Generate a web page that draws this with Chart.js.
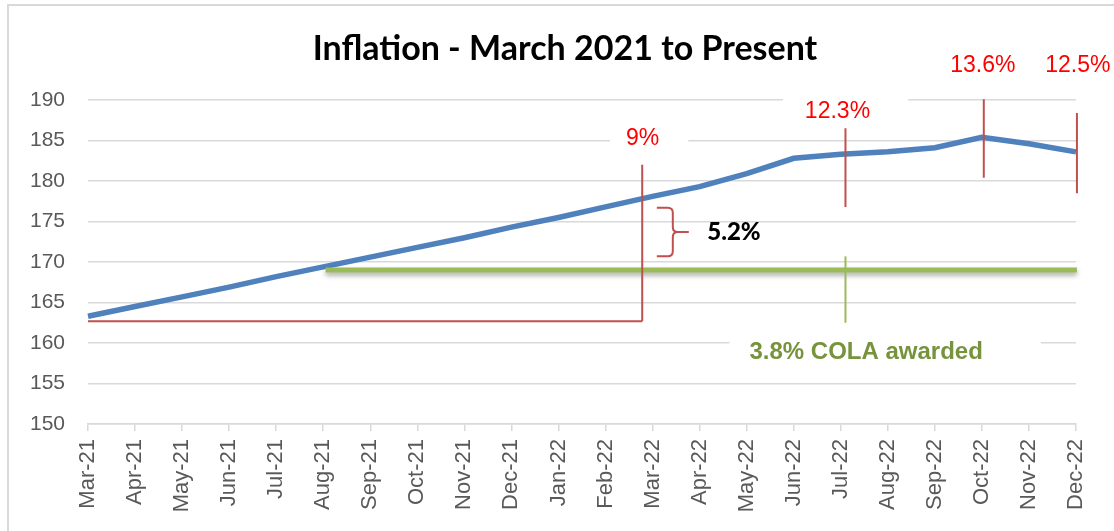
<!DOCTYPE html>
<html>
<head>
<meta charset="utf-8">
<title>Inflation - March 2021 to Present</title>
<script src="https://cdn.jsdelivr.net/npm/chart.js@4.4.0/dist/chart.umd.min.js"></script>
<style>
    body { margin: 0; background: #ffffff; overflow: hidden; }
    #frame {
        position: absolute; left: 7px; top: 4px;
        width: 1130px; height: 540px;
        border: 2px solid #d9d9d9;
    }
    #wrap { position: absolute; left: 0; top: 0; width: 1114px; height: 531px; }
</style>
</head>
<body>
<div id="frame"></div>
<div id="wrap"><canvas id="inflation-chart" width="1114" height="531"></canvas></div>
<script>
// ======== DATA ========
const months = [
    'Mar-21', 'Apr-21', 'May-21', 'Jun-21', 'Jul-21', 'Aug-21', 'Sep-21', 'Oct-21',
    'Nov-21', 'Dec-21', 'Jan-22', 'Feb-22', 'Mar-22', 'Apr-22', 'May-22', 'Jun-22',
    'Jul-22', 'Aug-22', 'Sep-22', 'Oct-22', 'Nov-22', 'Dec-22'
];
const cpiValues = [
    163.3, 164.5, 165.7, 166.9, 168.2, 169.4, 170.6, 171.8,
    173.0, 174.3, 175.5, 176.8, 178.1, 179.3, 180.9, 182.8,
    183.3, 183.6, 184.1, 185.4, 184.6, 183.6
];
const yTicks = [150, 155, 160, 165, 170, 175, 180, 185, 190];

// annotations (in data units : month index, index value)
const redMarkers = [            // vertical red lines
    { x: 11.78, from: 162.7, to: 182.0 },
    { x: 16.10, from: 176.8, to: 186.5 },
    { x: 19.04, from: 180.4, to: 190.1 },
    { x: 21.02, from: 178.5, to: 188.4 }
];
const redLabels = ['9%', '12.3%', '13.6%', '12.5%'];
const redLabelPos = [
    { x: 11.79, y: 185.2, padL: 16, padR: 29 },
    { x: 15.93, y: 188.5, padL: 22, padR: 38 },
    { x: 19.02, y: 194.3, padL: 4, padR: 4 },
    { x: 21.04, y: 194.3, padL: 4, padR: 4 }
];
const baseLine = { from: 0, to: 11.78, y: 162.7 };
const colaLine = { from: 5.05, to: 21.02, y: 169.0 };
const colaMarker = { x: 16.10, from: 162.5, to: 170.7 };
const colaLabel = { text: '3.8% COLA awarded', x: 16.54, y: 158.9 };
const gapBracket = { x0: 12.09, x1: 12.43, x2: 12.77, top: 176.7, mid: 173.7, bottom: 170.7 };
const gapLabel = { text: '5.2%', x: 13.73, y: 173.7 };

const chartTitle = 'Inflation - March 2021 to Present';

// ======== PLUGIN : title + hand drawn annotations ========
const annotationsPlugin = {
    id: 'annotations',
    afterDatasetsDraw(chart) {
        const c = chart.ctx;
        const xs = chart.scales.x;
        const ys = chart.scales.y;
        const px = v => xs.getPixelForValue(v);
        const py = v => ys.getPixelForValue(v);

        c.save();

        // white boxes behind the labels (they hide the gridlines)
        c.fillStyle = '#ffffff';
        c.font = '23px "Liberation Sans", Arial, sans-serif';
        redLabels.forEach((t, i) => {
            const p = redLabelPos[i];
            const w = c.measureText(t).width;
            c.fillRect(px(p.x) - w / 2 - p.padL, py(p.y) - 17, w + p.padL + p.padR, 34);
        });
        c.font = 'bold 24px "Liberation Sans", Arial, sans-serif';
        const cw = c.measureText(colaLabel.text).width;
        c.fillRect(px(colaLabel.x) - cw / 2 - 20, py(colaLabel.y) - 18, cw + 78, 40);

        // green COLA line with its shadow
        c.save();
        c.shadowColor = 'rgba(0,0,0,0.35)';
        c.shadowBlur = 5;
        c.shadowOffsetY = 3;
        c.strokeStyle = '#9bbb59';
        c.lineWidth = 5;
        c.beginPath();
        c.moveTo(px(colaLine.from), py(colaLine.y));
        c.lineTo(px(colaLine.to), py(colaLine.y));
        c.stroke();
        c.restore();

        c.strokeStyle = '#9bbb59';
        c.lineWidth = 2;
        c.beginPath();
        c.moveTo(px(colaMarker.x), py(colaMarker.from));
        c.lineTo(px(colaMarker.x), py(colaMarker.to));
        c.stroke();

        // red lines
        c.strokeStyle = '#c0504d';
        c.lineWidth = 2;
        c.beginPath();
        c.moveTo(px(baseLine.from), py(baseLine.y));
        c.lineTo(px(baseLine.to), py(baseLine.y));
        redMarkers.forEach(m => {
            c.moveTo(px(m.x), py(m.from));
            c.lineTo(px(m.x), py(m.to));
        });
        c.stroke();

        // curly bracket
        const b = gapBracket;
        const x0 = px(b.x0), x1 = px(b.x1), x2 = px(b.x2);
        const yT = py(b.top), yM = py(b.mid), yB = py(b.bottom);
        const r = 5;
        c.beginPath();
        c.moveTo(x0, yT);
        c.lineTo(x1 - r, yT);
        c.quadraticCurveTo(x1, yT, x1, yT + r);
        c.lineTo(x1, yM - r);
        c.quadraticCurveTo(x1, yM, x1 + r, yM);
        c.lineTo(x2, yM);
        c.moveTo(x1 + r, yM);
        c.quadraticCurveTo(x1, yM, x1, yM + r);
        c.lineTo(x1, yB - r);
        c.quadraticCurveTo(x1, yB, x1 - r, yB);
        c.lineTo(x0, yB);
        c.stroke();

        // texts
        c.textAlign = 'center';
        c.textBaseline = 'middle';
        c.fillStyle = '#ff0000';
        c.font = '23px "Liberation Sans", Arial, sans-serif';
        redLabels.forEach((t, i) => {
            c.fillText(t, px(redLabelPos[i].x), py(redLabelPos[i].y));
        });

        c.fillStyle = '#000000';
        c.font = '900 24px Lato, sans-serif';
        c.fillText(gapLabel.text, px(gapLabel.x), py(gapLabel.y));

        c.fillStyle = '#77933c';
        c.font = 'bold 24px "Liberation Sans", Arial, sans-serif';
        c.fillText(colaLabel.text, px(colaLabel.x), py(colaLabel.y));

        // title
        c.fillStyle = '#000000';
        c.font = 'bold 34px Lato, sans-serif';
        c.fillText(chartTitle, 565, 49);

        c.restore();
    }
};

// ======== CHART ========
const ctx = document.getElementById('inflation-chart');

new Chart(ctx, {
    type: 'line',
    data: {
        labels: months,
        datasets: [{
            label: 'Index',
            data: cpiValues,
            borderColor: '#4f81bd',
            borderWidth: 5.5,
            pointRadius: 0,
            tension: 0,
            fill: false
        }]
    },
    options: {
        responsive: false,
        animation: false,
        layout: { padding: { top: 100, right: 38, left: 0, bottom: 0 } },
        plugins: {
            legend: { display: false },
            title: { display: false },
            tooltip: { enabled: false }
        },
        scales: {
            x: {
                offset: false,
                afterFit: s => { s.height = 107; },
                grid: {
                    drawOnChartArea: false,
                    drawTicks: true,
                    tickLength: 7,
                    color: '#d9d9d9',
                    lineWidth: 1.5
                },
                border: { display: true, color: '#d9d9d9', width: 1.5 },
                ticks: {
                    autoSkip: false,
                    minRotation: 90,
                    maxRotation: 90,
                    padding: 8,
                    color: '#595959',
                    font: { family: '"Liberation Sans", Arial, sans-serif', size: 22 }
                }
            },
            y: {
                min: 150,
                max: 190,
                afterFit: s => { s.width = 88; },
                afterBuildTicks: s => { s.ticks = yTicks.map(v => ({ value: v })); },
                grid: { drawTicks: false, color: '#d9d9d9', lineWidth: 1.5 },
                border: { display: false },
                ticks: {
                    padding: 23,
                    color: '#595959',
                    font: { family: '"Liberation Sans", Arial, sans-serif', size: 21 }
                }
            }
        }
    },
    plugins: [annotationsPlugin]
});
</script>
</body>
</html>
